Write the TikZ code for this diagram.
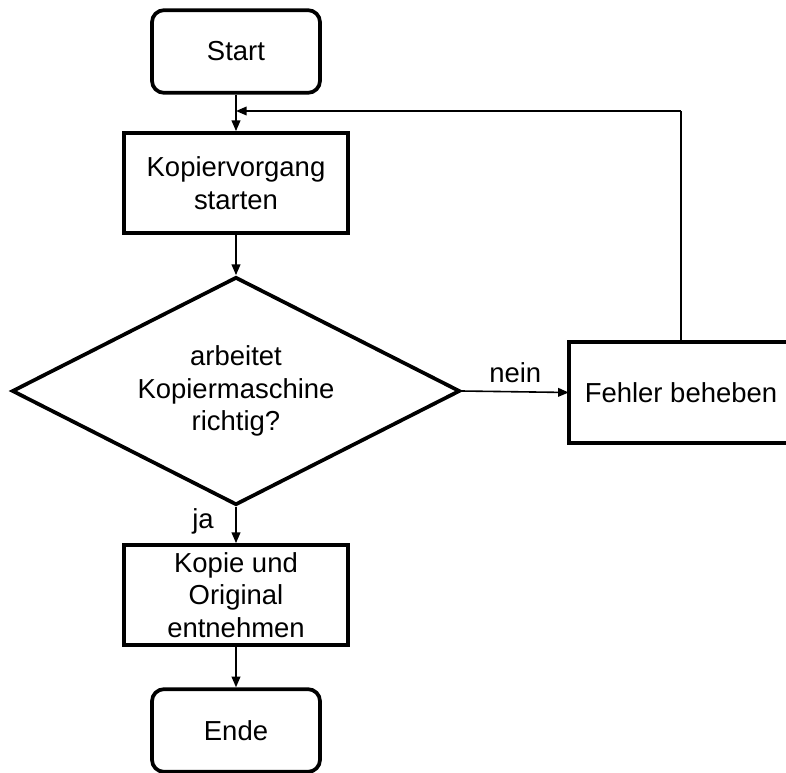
\documentclass[tikz,border=0pt]{standalone}
\usepackage{fontspec}
\setmainfont{Liberation Sans}
\usetikzlibrary{shapes.geometric,arrows.meta}
\begin{document}
\begin{tikzpicture}[x=0.75pt,y=-0.75pt,
  every node/.style={font=\fontsize{20.6}{24.4}\selectfont, align=center, inner sep=0pt},
  terminal/.style={draw, line width=2.8pt, rounded corners=9pt, minimum width=126pt, minimum height=62pt},
  process/.style={draw, line width=2.8pt, minimum width=168pt, minimum height=75pt},
  decision/.style={draw, line width=2.8pt, diamond, aspect=1.965, minimum width=336pt, minimum height=171pt},
  flow/.style={line width=1.2pt, -{Triangle[length=8pt,width=6.5pt]}},
  plain/.style={line width=1.2pt}]
\useasboundingbox (0,0) rectangle (786,772);

\node[terminal] (start) at (236,51.5) {Start};
\node[process]  (kop)   at (236,183)  {Kopiervorgang\\starten};
\node[decision] (q)     at (236,391)  {};
\node (qtext) at (236,391) {arbeitet\\Kopiermaschine\\richtig?};
% the error box is open on its right side, where the page ends
\node[minimum width=168pt, minimum height=75pt] (fix) at (681,392.5) {Fehler beheben};
\draw[line width=2.8pt] ([xshift=30pt]fix.north east) -- (fix.north west) -- (fix.south west) -- ([xshift=30pt]fix.south east);
\node[process]  (take)  at (236,595)  {Kopie und\\Original\\entnehmen};
\node[terminal] (end)   at (236,730.5) {Ende};

\coordinate (join) at (236,111);
\coordinate (corner) at (681,111);

\draw[flow] (start) -- (kop);
\draw[flow] (kop) -- (q.north);
\draw[flow] (q.east) -- node[above=6pt, pos=0.5] {nein} (fix.west);
\draw[flow] (q.south) -- (take);
\node at (203,521) {ja};
\draw[flow] (take) -- (end);
\draw[plain] (fix.north) -- (corner);
\draw[flow] (corner) -- (join);
\end{tikzpicture}
\end{document}
